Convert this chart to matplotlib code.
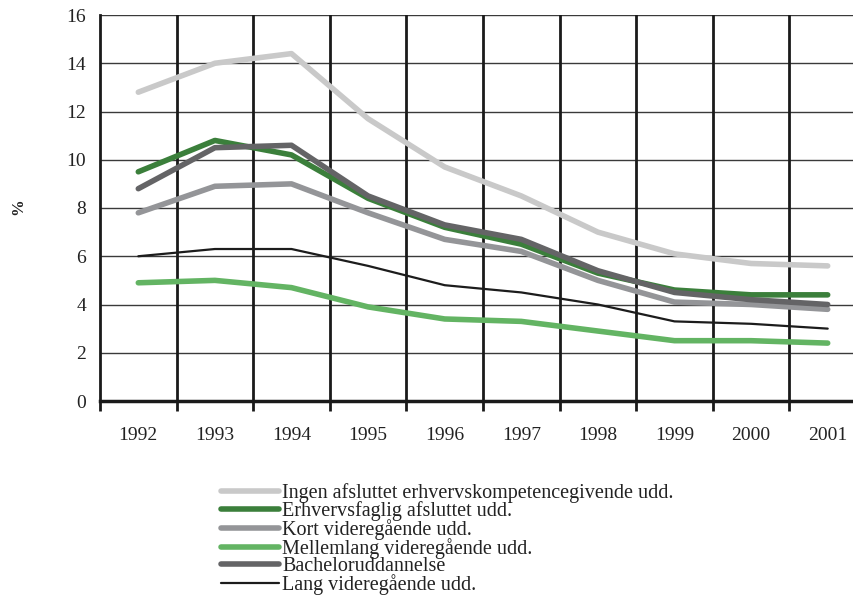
import matplotlib
matplotlib.use("Agg")
import matplotlib.pyplot as plt
import numpy as np

years = ["1992", "1993", "1994", "1995", "1996", "1997", "1998", "1999", "2000", "2001"]

ingen = [12.8, 14.0, 14.4, 11.7, 9.7, 8.5, 7.0, 6.1, 5.7, 5.6]
erhvervsfaglig = [9.5, 10.8, 10.2, 8.4, 7.2, 6.5, 5.3, 4.6, 4.4, 4.4]
kort = [7.8, 8.9, 9.0, 7.8, 6.7, 6.2, 5.0, 4.1, 4.0, 3.8]
mellemlang = [4.9, 5.0, 4.7, 3.9, 3.4, 3.3, 2.9, 2.5, 2.5, 2.4]
bachelor = [8.8, 10.5, 10.6, 8.5, 7.3, 6.7, 5.4, 4.5, 4.2, 4.0]
lang = [6.0, 6.3, 6.3, 5.6, 4.8, 4.5, 4.0, 3.3, 3.2, 3.0]

labels = [
    "Ingen afsluttet erhvervskompetencegivende udd.",
    "Erhvervsfaglig afsluttet udd.",
    "Kort videregående udd.",
    "Mellemlang videregående udd.",
    "Bacheloruddannelse",
    "Lang videregående udd.",
]

plt.rcParams['font.family'] = ['Liberation Serif', 'DejaVu Serif']

fig = plt.figure(figsize=(8.54, 5.96), dpi=100)
ax = fig.add_axes((100 / 854, 1 - 401 / 596, 766 / 854, 386 / 596))

x = np.arange(len(years))
series = [ingen, erhvervsfaglig, kort, mellemlang, bachelor, lang]
colors = ['#c9c9c9', '#3b7f3b', '#949598', '#63b463', '#646466', '#1c1c1c']
widths = [4, 4, 4, 4, 4, 1.6]

# grid: thin horizontals, heavy verticals between categories
for yv in range(2, 17, 2):
    ax.axhline(yv, color='#3a3a3a', lw=1, zorder=1)
for xv in np.arange(0.5, 9.0, 1.0):
    ax.axvline(xv, color='#1a1a1a', lw=2, zorder=1)

for vals, c, w, lab in zip(series, colors, widths, labels):
    ax.plot(x, vals, color=c, lw=w, label=lab, zorder=3,
            solid_capstyle='round', solid_joinstyle='round')

ax.set_xlim(-0.5, 9.5)
ax.set_ylim(0, 16)
ax.set_yticks(range(0, 17, 2))
ax.set_xticks(x)
ax.set_xticklabels(years)
ax.set_xticks(np.arange(-0.5, 9.6, 1.0), minor=True)

for s in ['top', 'right']:
    ax.spines[s].set_visible(False)
ax.spines['left'].set_linewidth(2)
ax.spines['bottom'].set_linewidth(2.5)
ax.spines['left'].set_color('#1a1a1a')
ax.spines['bottom'].set_color('#1a1a1a')

ax.tick_params(axis='y', length=0, pad=10, labelsize=14, colors='#222222')
ax.tick_params(axis='x', which='major', length=0, pad=19, labelsize=14, colors='#222222')
ax.tick_params(axis='x', which='minor', length=7, width=2, color='#1a1a1a')

fig.text(18 / 854, 1 - 207 / 596, '%', rotation=90, ha='center', va='center',
         fontsize=12, fontweight='bold', color='#222222')

# rows are packed tight, like the source
leg = ax.legend(loc='upper left', bbox_to_anchor=(221 / 854, 1 - 483 / 596),
                bbox_transform=fig.transFigure, frameon=False, fontsize=14.5,
                handlelength=2.9, handletextpad=0.15, labelspacing=-0.1,
                borderpad=0, borderaxespad=0)
for t in leg.get_texts():
    t.set_color('#222222')

fig.savefig('out.png', dpi=100)
